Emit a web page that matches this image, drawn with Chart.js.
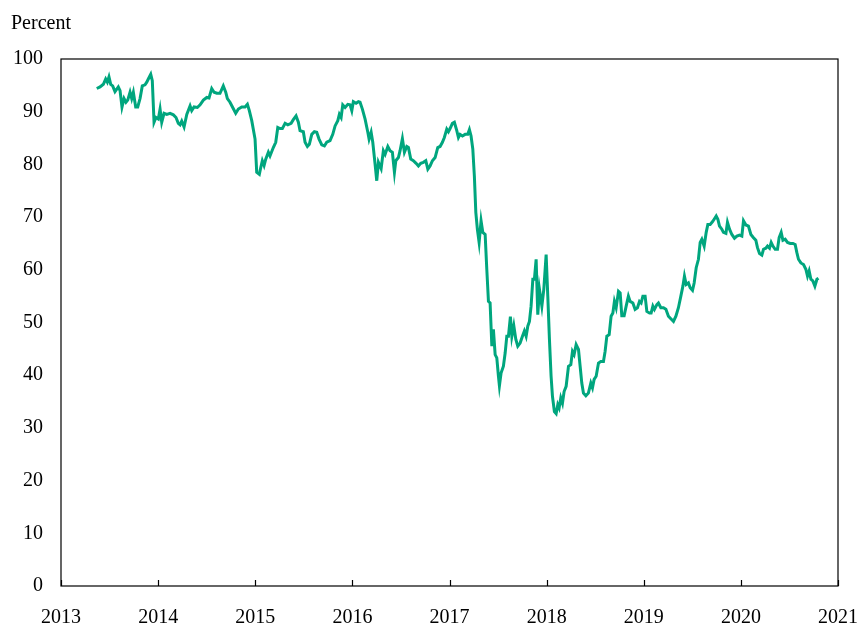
<!DOCTYPE html>
<html>
<head>
<meta charset="utf-8">
<script src="https://cdn.jsdelivr.net/npm/chart.js@4"></script>
<style>
  body { margin: 0; background: #fff; }
  #wrap { width: 862px; height: 624px; }
</style>
</head>
<body>
<div id="wrap"><canvas id="myChart" width="862" height="624"></canvas></div>
<script>
// Dates as decimal years, values in percent
let dates = [
  2013.368, 2013.402, 2013.436, 2013.460, 2013.477, 2013.494, 2013.512, 2013.532, 2013.556, 2013.590,
  2013.608, 2013.628, 2013.649, 2013.669, 2013.687, 2013.711, 2013.728, 2013.745, 2013.769, 2013.790,
  2013.814, 2013.837, 2013.865, 2013.883, 2013.899, 2013.924, 2013.940, 2013.958, 2013.978, 2014.002,
  2014.020, 2014.037, 2014.061, 2014.089, 2014.123, 2014.157, 2014.184, 2014.208, 2014.226, 2014.243,
  2014.267, 2014.295, 2014.329, 2014.346, 2014.370, 2014.404, 2014.432, 2014.466, 2014.501, 2014.524,
  2014.552, 2014.576, 2014.604, 2014.637, 2014.671, 2014.696, 2014.713, 2014.740, 2014.768, 2014.799,
  2014.826, 2014.861, 2014.895, 2014.919, 2014.939, 2014.964, 2014.998, 2015.015, 2015.042, 2015.057,
  2015.073, 2015.091, 2015.108, 2015.135, 2015.152, 2015.186, 2015.211, 2015.232, 2015.255, 2015.279,
  2015.307, 2015.335, 2015.369, 2015.392, 2015.420, 2015.444, 2015.461, 2015.495, 2015.513, 2015.537,
  2015.557, 2015.582, 2015.609, 2015.633, 2015.657, 2015.685, 2015.712, 2015.736, 2015.770, 2015.798,
  2015.822, 2015.850, 2015.866, 2015.884, 2015.901, 2015.925, 2015.953, 2015.976, 2015.994, 2016.010,
  2016.038, 2016.062, 2016.079, 2016.103, 2016.131, 2016.159, 2016.172, 2016.193, 2016.210, 2016.234,
  2016.251, 2016.268, 2016.296, 2016.319, 2016.337, 2016.365, 2016.388, 2016.412, 2016.433, 2016.447,
  2016.474, 2016.491, 2016.515, 2016.536, 2016.560, 2016.577, 2016.601, 2016.628, 2016.656, 2016.680,
  2016.704, 2016.731, 2016.756, 2016.777, 2016.800, 2016.824, 2016.852, 2016.879, 2016.903, 2016.927,
  2016.947, 2016.972, 2016.989, 2017.006, 2017.030, 2017.050, 2017.075, 2017.092, 2017.109, 2017.133,
  2017.161, 2017.188, 2017.205, 2017.222, 2017.240, 2017.256, 2017.271, 2017.287, 2017.305, 2017.325,
  2017.343, 2017.367, 2017.384, 2017.401, 2017.418, 2017.436, 2017.452, 2017.470, 2017.487, 2017.504,
  2017.514, 2017.531, 2017.555, 2017.573, 2017.590, 2017.607, 2017.627, 2017.642, 2017.662, 2017.683,
  2017.703, 2017.727, 2017.751, 2017.771, 2017.789, 2017.806, 2017.823, 2017.840, 2017.858, 2017.874,
  2017.892, 2017.909, 2017.926, 2017.951, 2017.971, 2017.995, 2018.012, 2018.029, 2018.046, 2018.060,
  2018.080, 2018.098, 2018.115, 2018.129, 2018.146, 2018.163, 2018.180, 2018.201, 2018.225, 2018.249,
  2018.266, 2018.283, 2018.304, 2018.328, 2018.345, 2018.362, 2018.379, 2018.404, 2018.430, 2018.455,
  2018.472, 2018.489, 2018.510, 2018.534, 2018.558, 2018.585, 2018.602, 2018.620, 2018.644, 2018.664,
  2018.682, 2018.698, 2018.716, 2018.740, 2018.757, 2018.774, 2018.798, 2018.819, 2018.842, 2018.860,
  2018.888, 2018.911, 2018.935, 2018.956, 2018.973, 2018.991, 2019.014, 2019.032, 2019.059, 2019.076,
  2019.094, 2019.110, 2019.135, 2019.151, 2019.176, 2019.203, 2019.228, 2019.254, 2019.279, 2019.306,
  2019.331, 2019.357, 2019.382, 2019.403, 2019.419, 2019.437, 2019.460, 2019.478, 2019.502, 2019.519,
  2019.540, 2019.563, 2019.581, 2019.598, 2019.622, 2019.643, 2019.660, 2019.684, 2019.707, 2019.725,
  2019.746, 2019.763, 2019.780, 2019.804, 2019.821, 2019.846, 2019.862, 2019.883, 2019.907, 2019.934,
  2019.959, 2019.986, 2020.010, 2020.027, 2020.052, 2020.078, 2020.103, 2020.130, 2020.154, 2020.171,
  2020.192, 2020.216, 2020.233, 2020.257, 2020.274, 2020.295, 2020.312, 2020.330, 2020.353, 2020.377,
  2020.394, 2020.415, 2020.433, 2020.456, 2020.480, 2020.508, 2020.536, 2020.559, 2020.576, 2020.593,
  2020.618, 2020.645, 2020.669, 2020.686, 2020.703, 2020.721, 2020.741, 2020.762, 2020.783, 2020.799
];

let percent = [
  94.4, 94.7, 95.2, 96.2, 95.6, 96.6, 95.2, 94.9, 93.8, 94.7,
  94.0, 90.9, 92.5, 91.8, 92.2, 93.7, 92.5, 93.7, 90.9, 90.9,
  92.5, 94.9, 95.1, 95.6, 96.2, 97.1, 95.9, 88.0, 88.9, 88.6,
  90.5, 88.0, 89.7, 89.5, 89.7, 89.4, 88.9, 87.8, 87.5, 88.2,
  87.1, 89.5, 91.1, 90.2, 90.9, 90.8, 91.3, 92.2, 92.7, 92.6,
  94.4, 93.7, 93.5, 93.5, 94.9, 93.7, 92.5, 91.8, 90.8, 89.7,
  90.5, 90.9, 90.9, 91.4, 90.2, 88.3, 84.8, 78.5, 78.1, 79.4,
  80.7, 79.8, 81.0, 82.3, 81.6, 83.2, 84.2, 87.0, 86.8, 86.8,
  87.8, 87.5, 87.8, 88.5, 89.2, 88.0, 86.4, 86.2, 84.2, 83.4,
  83.8, 85.7, 86.2, 86.1, 84.8, 83.7, 83.5, 84.2, 84.5, 85.7,
  87.3, 88.3, 89.5, 88.9, 91.3, 90.8, 91.4, 91.3, 90.2, 91.9,
  91.6, 91.9, 91.8, 90.5, 88.6, 86.1, 84.8, 86.1, 84.2, 80.0,
  76.9, 80.4, 79.2, 82.6, 81.9, 83.4, 82.6, 82.3, 78.5, 80.7,
  81.3, 82.6, 84.9, 82.3, 83.4, 83.2, 81.0, 80.7, 80.2, 79.7,
  80.2, 80.4, 80.7, 79.1, 79.7, 80.7, 81.3, 83.2, 83.4, 84.2,
  85.1, 86.7, 86.2, 86.8, 87.8, 88.0, 86.4, 85.1, 85.7, 85.4,
  85.7, 85.7, 86.6, 85.4, 82.9, 77.8, 70.9, 67.7, 65.2, 69.3,
  67.1, 66.7, 60.1, 54.0, 53.7, 45.5, 48.7, 43.9, 43.3, 39.8,
  38.0, 40.4, 41.7, 44.2, 47.4, 47.4, 51.1, 47.4, 49.4, 46.8,
  45.5, 46.1, 47.4, 48.4, 47.4, 49.3, 50.2, 53.1, 58.2, 58.2,
  62.0, 51.5, 56.3, 53.1, 56.3, 62.9, 55.0, 46.8, 39.8, 36.0,
  33.1, 32.7, 34.4, 33.8, 35.7, 34.7, 36.9, 37.9, 41.7, 42.0,
  44.5, 43.9, 45.8, 44.9, 41.7, 38.5, 36.6, 36.1, 36.6, 38.5,
  37.6, 39.2, 39.8, 42.3, 42.6, 42.6, 44.5, 47.4, 47.7, 51.2,
  51.8, 54.0, 52.8, 55.9, 55.6, 51.3, 51.3, 53.1, 55.0, 54.0,
  53.7, 52.5, 52.8, 54.0, 53.7, 55.0, 55.0, 52.1, 51.8, 51.8,
  53.1, 52.5, 53.4, 53.7, 52.8, 52.8, 52.5, 51.2, 50.7, 50.2,
  51.2, 52.8, 55.0, 56.9, 58.8, 57.2, 57.5, 56.6, 56.1, 57.5,
  60.4, 62.0, 65.2, 65.8, 64.5, 67.1, 68.6, 68.6, 69.1, 69.6,
  70.2, 69.6, 68.3, 67.7, 67.1, 66.9, 69.0, 67.7, 66.7, 66.0,
  66.4, 66.6, 66.4, 69.3, 68.5, 68.3, 66.7, 66.1, 65.6, 64.2,
  63.1, 62.8, 63.9, 64.1, 64.5, 64.1, 65.2, 64.5, 63.9, 63.9,
  66.1, 67.1, 65.6, 65.8, 65.2, 65.0, 65.0, 64.8, 63.3, 62.0,
  61.3, 61.0, 60.1, 58.8, 59.8, 58.2, 57.9, 56.9, 58.2, 58.4
];

let yearTicks = [2013, 2014, 2015, 2016, 2017, 2018, 2019, 2020, 2021];
let percentTicks = [0, 10, 20, 30, 40, 50, 60, 70, 80, 90, 100];

let fontFamily = "'Liberation Serif', 'DejaVu Serif', serif";

// Builds the points for the line
let points = [];
for (let i = 0; i < dates.length; i++) {
  points.push({ x: dates[i], y: percent[i] });
}

// Box around the plot, inward year ticks and the "Percent" label
const framePlugin = {
  id: "frame",
  afterDraw(chart) {
    const ctx = chart.ctx;
    const area = chart.chartArea;
    const xScale = chart.scales.x;
    ctx.save();
    ctx.strokeStyle = "#000";
    ctx.lineWidth = 1.2;
    ctx.strokeRect(area.left, area.top, area.right - area.left, area.bottom - area.top);
    ctx.beginPath();
    for (let i = 0; i < yearTicks.length; i++) {
      let px = Math.round(xScale.getPixelForValue(yearTicks[i])) + 0.5;
      ctx.moveTo(px, area.bottom);
      ctx.lineTo(px, area.bottom - 6);
    }
    ctx.stroke();
    ctx.fillStyle = "#000";
    ctx.font = "20px " + fontFamily;
    ctx.textAlign = "left";
    ctx.textBaseline = "alphabetic";
    ctx.fillText("Percent", 11, 29);
    ctx.restore();
  },
};

const config = {
  type: "line",
  data: {
    datasets: [
      {
        data: points,
        borderColor: "#00a67e",
        borderWidth: 3,
        pointRadius: 0,
        fill: false,
        tension: 0,
      },
    ],
  },
  options: {
    responsive: false,
    animation: false,
    devicePixelRatio: 1,
    layout: { padding: { left: 0, right: 24, top: 59, bottom: 0 } },
    plugins: {
      legend: { display: false },
      tooltip: { enabled: false },
    },
    scales: {
      x: {
        type: "linear",
        min: 2013,
        max: 2021,
        afterBuildTicks: (s) => { s.ticks = yearTicks.map((v) => ({ value: v })); },
        afterFit: (s) => {
          s.height = 38;
          s.paddingLeft = 0;
          s.paddingRight = 0;
        },
        grid: { display: false, drawTicks: false },
        border: { display: false },
        ticks: {
          color: "#000",
          padding: 20,
          maxRotation: 0,
          font: { family: fontFamily, size: 20 },
          callback: (v) => String(v),
        },
      },
      y: {
        min: 0,
        max: 100,
        afterBuildTicks: (s) => { s.ticks = percentTicks.map((v) => ({ value: v })); },
        afterFit: (s) => {
          s.width = 61;
          s.paddingTop = 0;
          s.paddingBottom = 0;
        },
        grid: { display: false, drawTicks: false },
        border: { display: false },
        ticks: {
          color: "#000",
          padding: 18,
          font: { family: fontFamily, size: 20 },
          callback: (v) => String(v),
        },
      },
    },
  },
  plugins: [framePlugin],
};

const myChart = new Chart(document.getElementById("myChart").getContext("2d"), config);
</script>
</body>
</html>
